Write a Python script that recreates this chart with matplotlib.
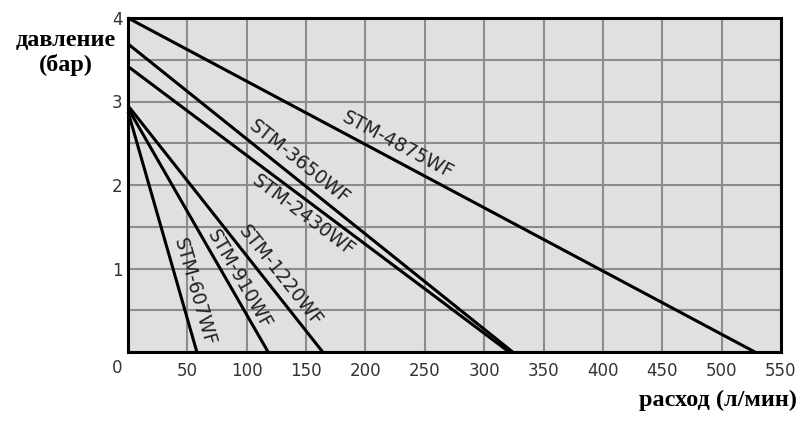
import numpy as np
import matplotlib
matplotlib.use("Agg")
import matplotlib.pyplot as plt

# pump curves: shut-off pressure (bar) and max flow (l/min)
models = ["STM-607WF", "STM-910WF", "STM-1220WF", "STM-2430WF", "STM-3650WF", "STM-4875WF"]
pressure_max = [2.88, 2.92, 2.95, 3.42, 3.69, 4.0]
flow_max = [58, 118, 164, 321, 324, 528]

# label anchor points (data coords)
label_x = [56, 94, 128, 148, 144, 227]
label_y = [0.72, 0.87, 0.91, 1.63, 2.27, 2.48]

x_ticks = [50, 100, 150, 200, 250, 300, 350, 400, 450, 500, 550]
y_ticks = [1, 2, 3, 4]

fig = plt.figure(figsize=(8.07, 4.21), dpi=100)
ax = fig.add_axes([128 / 807, 69 / 421, 653 / 807, 334 / 421])
ax.set_facecolor("#e0e0e0")
ax.set_xlim(0, 550)
ax.set_ylim(0, 4)

ax.set_xticks(np.arange(0, 551, 50))
ax.set_yticks(np.arange(0, 4.01, 0.5))
ax.grid(True, color="#8c8c8c", linewidth=1.5)
ax.set_axisbelow(True)
ax.set_xticklabels(["" if v == 0 else str(v) for v in np.arange(0, 551, 50)])
ax.set_yticklabels([str(int(v)) if v in y_ticks else "" for v in np.arange(0, 4.01, 0.5)])
ax.tick_params(length=0, labelsize=12, colors="#333333")
ax.tick_params(axis="x", pad=7)
ax.tick_params(axis="y", pad=4)
for s in ax.spines.values():
    s.set_linewidth(2.2)
    s.set_color("black")

for p, q in zip(pressure_max, flow_max):
    ax.plot([0, q], [p, 0], color="black", linewidth=2.2, solid_capstyle="butt", clip_on=False)

ax.annotate("0", xy=(0, 0), xytext=(-11, -16), textcoords="offset pixels",
            ha="center", va="center", fontsize=12, color="#333333")

fig.canvas.draw()
for name, p, q, lx, ly in zip(models, pressure_max, flow_max, label_x, label_y):
    a = ax.transData.transform((0, p))
    b = ax.transData.transform((q, 0))
    ang = np.degrees(np.arctan2(b[1] - a[1], b[0] - a[0]))
    ax.text(lx, ly, name, rotation=ang, rotation_mode="anchor", ha="center", va="center",
            fontsize=13.5, color="#222222")

serif = ["Liberation Serif", "DejaVu Serif"]
fig.text(66 / 807, 1 - 53 / 421, "давление\n(бар)", ha="center", va="center",
         fontsize=17.5, fontweight="bold", family=serif, linespacing=1.15)
fig.text(797 / 807, 1 - 400 / 421, "расход (л/мин)", ha="right", va="center",
         fontsize=17.5, fontweight="bold", family=serif)

fig.savefig("out.png", dpi=100, facecolor="white")
